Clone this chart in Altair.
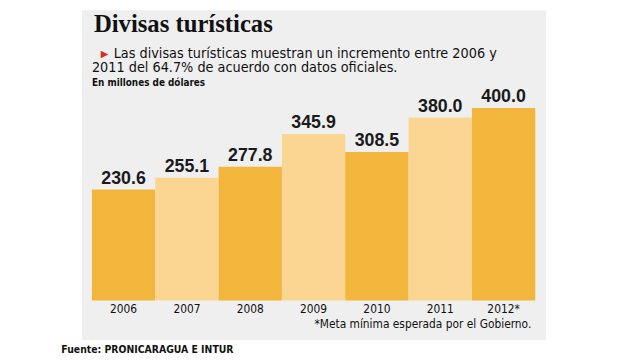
import altair as alt
import pandas as pd

years = ["2006", "2007", "2008", "2009", "2010", "2011", "2012*"]
values = [230.6, 255.1, 277.8, 345.9, 308.5, 380.0, 400.0]

title_text = "Divisas turísticas"
sub_line1 = "Las divisas turísticas muestran un incremento entre 2006 y"
sub_line2 = "2011 del 64.7%  de acuerdo con datos oficiales."
unit_text = "En millones de dólares"
note_text = "*Meta mínima esperada por el Gobierno."
source_text = "Fuente: PRONICARAGUA E INTUR"

DARK = "#F3B63C"
LIGHT = "#FBD692"
NARROW = "Liberation Sans Narrow, DejaVu Sans Condensed, Liberation Sans, sans-serif"

df = pd.DataFrame({"year": years, "value": values})
df["tone"] = ["a" if i % 2 == 0 else "b" for i in range(len(df))]

x = alt.X("year:N", sort=years,
          scale=alt.Scale(paddingInner=0, paddingOuter=0),
          axis=alt.Axis(title=None, domain=False, ticks=False, labelAngle=0,
                        labelFont=NARROW, labelFontSize=12, labelColor="#111",
                        labelBaseline="top", labelPadding=3, grid=False, zindex=2))
y = alt.Y("value:Q", scale=alt.Scale(domain=[0, 400], nice=False), axis=None)

one = pd.DataFrame({"k": [0]})
base_one = alt.Chart(one)

panel = base_one.mark_rect(color="#EFEFEF").encode(
    x=alt.value(-10), x2=alt.value(460), y=alt.value(-99), y2=alt.value(235))

bars = alt.Chart(df).mark_bar(stroke=None).encode(
    x=x, y=y,
    color=alt.Color("tone:N", scale=alt.Scale(domain=["a", "b"], range=[DARK, LIGHT]), legend=None))

labels = alt.Chart(df).mark_text(baseline="alphabetic", dy=-6, fontSize=18, fontWeight="bold",
                                 font="Liberation Sans, sans-serif", color="#1a1a1a").encode(
    x=x, y=y, text=alt.Text("value:Q", format=".1f"))

def txt(t, xv, yv, size, weight="normal", font=NARROW, color="#111", align="left"):
    return base_one.mark_text(text=t, align=align, baseline="alphabetic", fontSize=size,
                              fontWeight=weight, font=font, color=color).encode(
        x=alt.value(xv), y=alt.value(yv))

title = txt(title_text, 2, -77, 25, "bold", "Liberation Serif, DejaVu Serif, serif", "#111")
tri = txt("▶", 9, -52, 10, "normal", "DejaVu Sans, sans-serif", "#D9301E")
line1 = txt(sub_line1, 22, -51, 14.5)
line2 = txt(sub_line2, 0, -36, 14.5)
unit = txt(unit_text, 0, -22, 10, "bold")
note = txt(note_text, 445, 223, 12, align="right")
source = txt(source_text, -31, 248, 10.5, "bold")

chart = alt.layer(panel, bars, labels, title, tri, line1, line2, unit, note, source).properties(
    width=449, height=195,
    autosize=alt.AutoSizeParams(type="none"),
    padding={"left": 85, "top": 99, "right": 97, "bottom": 58},
    background="white",
).configure_view(stroke=None)

chart.save("out.html", embed_options={"renderer": "svg", "actions": False})
